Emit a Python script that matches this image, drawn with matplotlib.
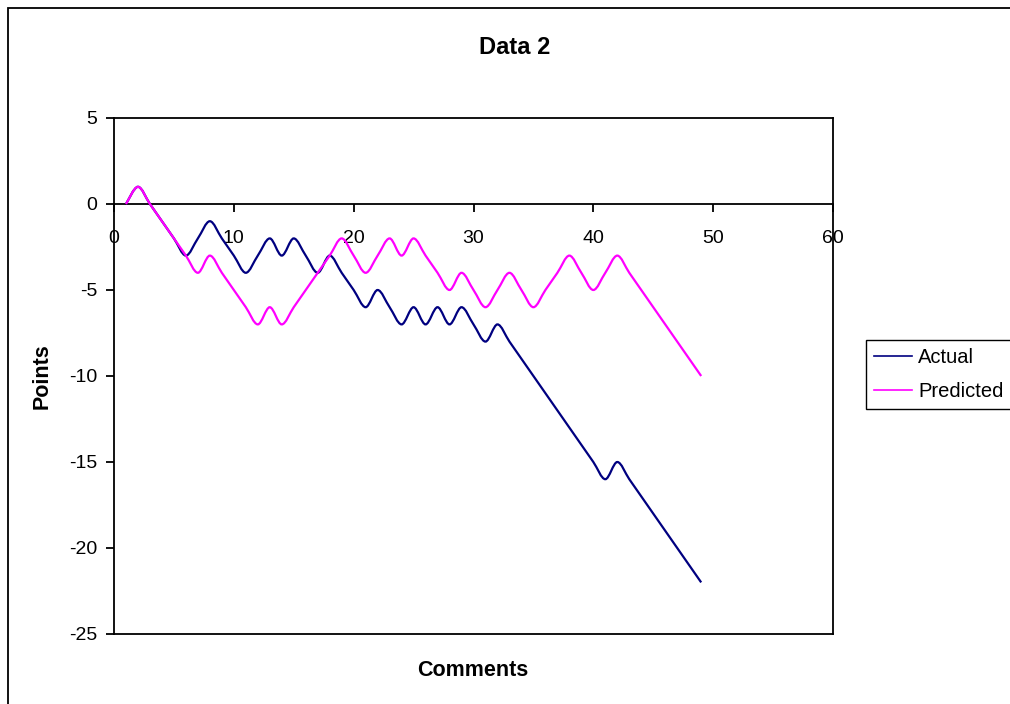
#!/usr/bin/python
# -*- coding: utf-8 -*-
"""
Description: Data 2 - actual vs predicted points per comment
"""
import numpy as np
import matplotlib
matplotlib.use("Agg")
import matplotlib.pyplot as plt
from matplotlib.path import Path
from matplotlib.patches import PathPatch, Rectangle
from matplotlib.lines import Line2D

#---------------------FONT and other graphics------------------------
font = {'family': ['Liberation Sans', 'DejaVu Sans'],
        'size': 14}
matplotlib.rc('font', **font)
matplotlib.rc('axes', linewidth=1.3, unicode_minus=False)

#---------------------DATA------------------------
comments = list(range(1, 50))
actual = [0, 1, 0, -1, -2, -3, -2, -1, -2, -3,
          -4, -3, -2, -3, -2, -3, -4, -3, -4, -5,
          -6, -5, -6, -7, -6, -7, -6, -7, -6, -7,
          -8, -7, -8, -9, -10, -11, -12, -13, -14, -15,
          -16, -15, -16, -17, -18, -19, -20, -21, -22]
predicted = [0, 1, 0, -1, -2, -3, -4, -3, -4, -5,
             -6, -7, -6, -7, -6, -5, -4, -3, -2, -3,
             -4, -3, -2, -3, -2, -3, -4, -5, -4, -5,
             -6, -5, -4, -5, -6, -5, -4, -3, -4, -5,
             -4, -3, -4, -5, -6, -7, -8, -9, -10]
series_names = ['Actual', 'Predicted']
series_colors = ['#000080', '#FF00FF']
#-------------------------------------------------


def smooth_path(x, y):
    # Excel style smoothed line: Catmull-Rom turned into cubic Bezier pieces
    x = np.asarray(x, dtype=float)
    y = np.asarray(y, dtype=float)
    px = np.concatenate(([x[0]], x, [x[-1]]))
    py = np.concatenate(([y[0]], y, [y[-1]]))
    verts = [(x[0], y[0])]
    codes = [Path.MOVETO]
    for i in range(1, len(px) - 2):
        c1 = (px[i] + (px[i + 1] - px[i - 1]) / 6.0, py[i] + (py[i + 1] - py[i - 1]) / 6.0)
        c2 = (px[i + 1] - (px[i + 2] - px[i]) / 6.0, py[i + 1] - (py[i + 2] - py[i]) / 6.0)
        verts += [c1, c2, (px[i + 1], py[i + 1])]
        codes += [Path.CURVE4] * 3
    return Path(verts, codes)


#------------Figure Layout--------------
fig = plt.figure(figsize=(10.1, 7.04), dpi=100)
adjustprops = dict(left=114 / 1010., bottom=1 - 634 / 704., right=833 / 1010., top=1 - 118 / 704.)
fig.subplots_adjust(**adjustprops)
ax = fig.add_subplot(111)

# chart area border (runs off the right and bottom of the picture)
fig.patches.append(Rectangle((8 / 1010., -0.1), 1.2, 1 - 8 / 704. + 0.1,
                             transform=fig.transFigure, fill=False,
                             edgecolor='black', linewidth=1.3))

ax.set_xlim(0, 60)
ax.set_ylim(-25, 5)
ax.set_xticks(np.arange(0, 61, 10))
ax.set_yticks(np.arange(-25, 6, 5))

# x axis crosses at y = 0, keep the plot-area box at the bottom
ax.spines['bottom'].set_position(('data', 0))
ax.axhline(-25, color='black', linewidth=1.3, clip_on=False)
ax.tick_params(axis='x', direction='out', length=6, width=1.3, pad=13, labelsize=14)
ax.tick_params(axis='y', direction='out', length=6, width=1.3, pad=6, labelsize=14)

#PLOT
handles = []
for vals, name, col in zip([actual, predicted], series_names, series_colors):
    patch = PathPatch(smooth_path(comments, vals), facecolor='none',
                      edgecolor=col, linewidth=1.6, zorder=3)
    ax.add_patch(patch)
    handles.append(Line2D([], [], color=col, linewidth=1.2, label=name))

#-------------------------GRAPHICS
fig.text(515 / 1010., 1 - 47 / 704., 'Data 2', ha='center', va='center',
         fontsize=17, fontweight='bold')
fig.text(473 / 1010., 1 - 671 / 704., 'Comments', ha='center', va='center',
         fontsize=15.5, fontweight='bold')
fig.text(42 / 1010., 1 - 376 / 704., 'Points', ha='center', va='center',
         rotation=90, fontsize=15.5, fontweight='bold')

leg = fig.legend(handles=handles, loc='upper left',
                 bbox_to_anchor=(866 / 1010., 1 - 340 / 704.),
                 borderaxespad=0, fancybox=False, frameon=True,
                 edgecolor='black', framealpha=1, fontsize=14.5,
                 handlelength=1.9, handletextpad=0.3, labelspacing=0.75,
                 borderpad=0.4)
leg.get_frame().set_linewidth(1.0)

#SAVING
fig.savefig("out.png", dpi=100)
